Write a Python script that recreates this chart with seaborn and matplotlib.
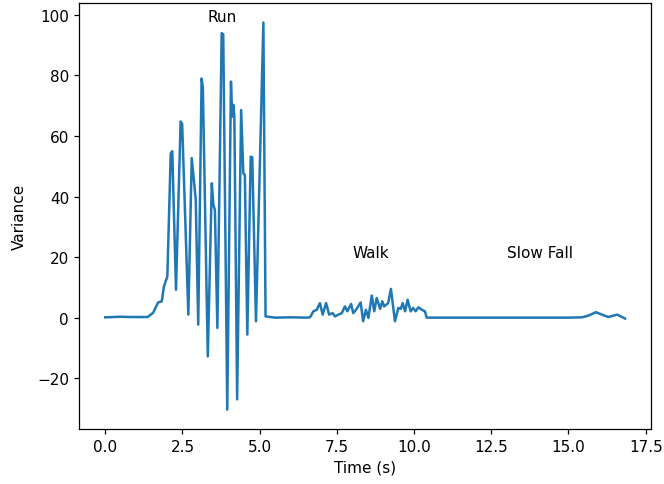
import matplotlib
matplotlib.use("Agg")
import matplotlib.pyplot as plt
import seaborn as sns
import pandas as pd

time_s = [0.0, 0.5, 0.8, 1.37, 1.55, 1.71, 1.83, 1.90, 2.01, 2.12, 2.17, 2.29, 2.44, 2.49,
          2.69, 2.80, 2.93, 3.01, 3.12, 3.16, 3.32, 3.45, 3.50, 3.55, 3.63, 3.77, 3.82,
          3.95, 4.07, 4.11, 4.15, 4.18, 4.27, 4.40, 4.47, 4.52, 4.60, 4.71, 4.76, 4.88,
          5.12, 5.19, 5.5, 6.0, 6.5,
          6.63, 6.74, 6.85, 6.95, 7.04, 7.15, 7.25, 7.36, 7.44, 7.55, 7.66, 7.76, 7.84,
          7.96, 8.03, 8.12, 8.27, 8.35, 8.44, 8.52, 8.63, 8.71, 8.79, 8.90, 8.97, 9.03,
          9.16, 9.25, 9.38, 9.49, 9.57, 9.63, 9.71, 9.79, 9.89, 9.97, 10.05, 10.14,
          10.25, 10.35, 10.41,
          11.0, 12.0, 13.0, 14.0, 15.0, 15.43, 15.63, 15.89, 16.08, 16.29, 16.58, 16.83]
variance = [0.1, 0.3, 0.2, 0.2, 1.6, 5.0, 5.4, 10.3, 13.6, 54.3, 55.0, 9.2, 64.8, 64.0,
            1.0, 52.7, 39.0, -2.3, 79.0, 76.0, -12.8, 44.4, 37.3, 35.6, -3.4, 94.0, 93.6,
            -30.4, 78.0, 66.4, 70.3, 66.4, -27.0, 68.6, 47.7, 47.2, -5.6, 53.2, 53.0, -1.2,
            97.5, 0.4, 0.0, 0.1, 0.0,
            0.1, 2.1, 2.6, 4.8, 1.0, 4.8, 1.0, 1.5, 0.4, 1.0, 1.5, 3.7, 2.1,
            4.5, 1.5, 2.6, 5.0, -1.2, 2.6, -0.1, 7.3, 2.1, 6.5, 2.9, 5.4, 3.7,
            4.8, 9.5, -1.2, 3.2, 2.9, 4.8, 2.1, 5.9, 2.1, 3.2, 2.1, 3.4,
            2.6, 2.1, 0.0,
            0.0, 0.0, 0.0, 0.0, 0.0, 0.1, 0.6, 1.8, 1.0, 0.2, 1.0, -0.3]

labels = ["Run", "Walk", "Slow Fall"]
label_x = [3.3, 8.0, 13.0]
label_y = [98, 20, 20]

plt.rcParams.update({
    "font.size": 11,
    "xtick.major.size": 3.9,
    "ytick.major.size": 3.9,
    "xtick.major.width": 0.9,
    "ytick.major.width": 0.9,
    "axes.linewidth": 0.9,
})

df = pd.DataFrame({"Time (s)": time_s, "Variance": variance})

fig = plt.figure(figsize=(6.64, 4.85), dpi=100)
ax = fig.add_axes([0.1194, 0.1134, 0.861, 0.878])
sns.lineplot(data=df, x="Time (s)", y="Variance", ax=ax, sort=False,
             estimator=None, color="#1f77b4", linewidth=1.8)
for t, x, y in zip(labels, label_x, label_y):
    ax.text(x, y, t, fontsize=11)
ax.set_xlabel("Time (s)")
ax.set_ylabel("Variance", labelpad=7)
fig.savefig("out.png", dpi=100)
